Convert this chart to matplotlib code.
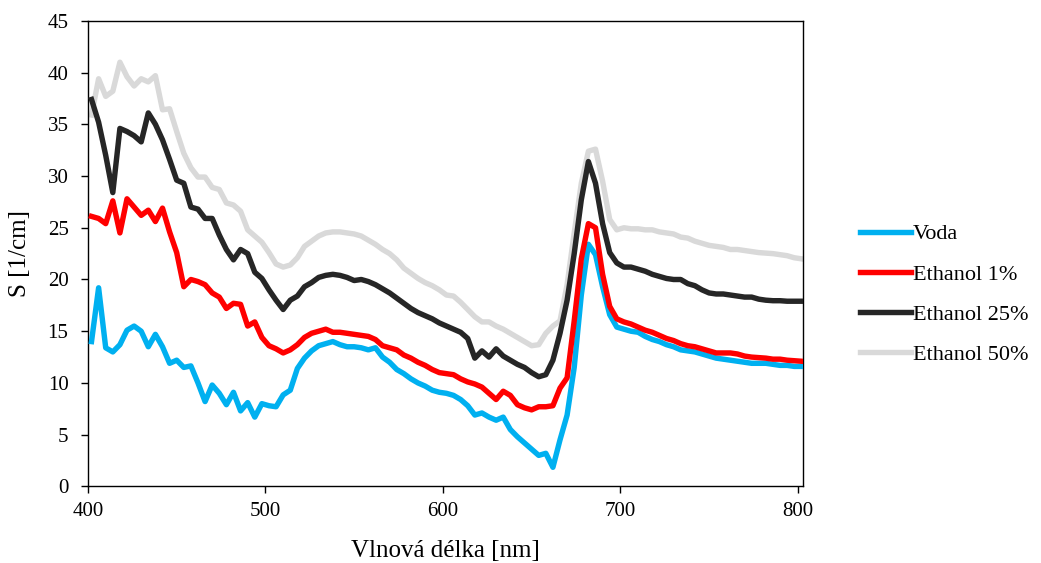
import matplotlib
matplotlib.use('Agg')
import matplotlib.pyplot as plt
import numpy as np

plt.rcParams['font.family'] = ['Liberation Serif', 'DejaVu Serif']

# wavelength grid of the measurement (nm)
wavelength = np.arange(402, 803, 4)

voda = [14.0, 19.2, 13.4, 13.0, 13.7, 15.1, 15.5, 15.0, 13.5, 14.7,
        13.5, 11.9, 12.2, 11.5, 11.65, 10.0, 8.2, 9.8, 9.0, 7.9,
        9.1, 7.3, 8.1, 6.7, 8.0, 7.8, 7.7, 8.85, 9.3, 11.4,
        12.4, 13.1, 13.6, 13.8, 14.0, 13.7, 13.5, 13.5, 13.4, 13.2,
        13.4, 12.5, 12.0, 11.3, 10.9, 10.4, 10.0, 9.7, 9.3, 9.1,
        9.0, 8.8, 8.4, 7.8, 6.9, 7.1, 6.7, 6.4, 6.7, 5.5,
        4.8, 4.2, 3.6, 3.0, 3.2, 1.85, 4.5, 6.9, 11.5, 18.5,
        23.4, 22.4, 19.3, 16.6, 15.4, 15.2, 15.0, 14.9, 14.5, 14.2,
        14.0, 13.7, 13.5, 13.2, 13.1, 13.0, 12.8, 12.6, 12.4, 12.3,
        12.2, 12.1, 12.0, 11.9, 11.9, 11.9, 11.8, 11.7, 11.7, 11.6,
        11.6]

ethanol_1 = [26.1, 25.9, 25.4, 27.6, 24.5, 27.8, 27.0, 26.2, 26.7, 25.6,
             26.9, 24.6, 22.6, 19.3, 20.0, 19.8, 19.5, 18.7, 18.3, 17.2,
             17.7, 17.6, 15.5, 15.9, 14.4, 13.6, 13.3, 12.9, 13.2, 13.7,
             14.4, 14.8, 15.0, 15.2, 14.9, 14.9, 14.8, 14.7, 14.6, 14.5,
             14.2, 13.6, 13.4, 13.2, 12.7, 12.4, 12.0, 11.7, 11.3, 11.0,
             10.9, 10.8, 10.4, 10.1, 9.9, 9.6, 9.0, 8.4, 9.2, 8.8,
             7.9, 7.6, 7.4, 7.7, 7.7, 7.8, 9.5, 10.5, 16.0, 22.0,
             25.4, 25.0, 20.5, 17.4, 16.2, 15.9, 15.7, 15.4, 15.1, 14.9,
             14.6, 14.3, 14.1, 13.8, 13.6, 13.5, 13.3, 13.1, 12.9, 12.9,
             12.9, 12.8, 12.6, 12.5, 12.45, 12.4, 12.3, 12.3, 12.2, 12.15,
             12.1]

ethanol_25 = [37.4, 35.2, 32.0, 28.4, 34.6, 34.3, 33.9, 33.3, 36.1, 35.0,
              33.5, 31.6, 29.6, 29.3, 27.0, 26.8, 25.9, 25.9, 24.3, 22.9,
              21.9, 22.9, 22.5, 20.7, 20.1, 19.0, 18.0, 17.1, 18.0, 18.4,
              19.3, 19.7, 20.2, 20.4, 20.5, 20.4, 20.2, 19.9, 20.0, 19.8,
              19.5, 19.1, 18.7, 18.2, 17.7, 17.2, 16.8, 16.5, 16.2, 15.8,
              15.5, 15.2, 14.9, 14.3, 12.4, 13.1, 12.5, 13.3, 12.6, 12.2,
              11.8, 11.5, 11.0, 10.6, 10.8, 12.2, 14.8, 18.0, 22.5, 27.7,
              31.4, 29.3, 25.4, 22.6, 21.6, 21.2, 21.2, 21.0, 20.8, 20.5,
              20.3, 20.1, 20.0, 20.0, 19.6, 19.4, 19.0, 18.7, 18.6, 18.6,
              18.5, 18.4, 18.3, 18.3, 18.1, 18.0, 17.95, 17.95, 17.9, 17.9,
              17.9]

ethanol_50 = [35.9, 39.4, 37.7, 38.2, 41.0, 39.6, 38.7, 39.4, 39.1, 39.7,
              36.4, 36.5, 34.3, 32.2, 30.8, 29.9, 29.9, 28.9, 28.7, 27.4,
              27.2, 26.6, 24.8, 24.2, 23.6, 22.6, 21.5, 21.2, 21.4, 22.1,
              23.2, 23.7, 24.2, 24.5, 24.6, 24.6, 24.5, 24.4, 24.2, 23.8,
              23.4, 22.9, 22.5, 21.9, 21.1, 20.6, 20.1, 19.7, 19.4, 19.0,
              18.5, 18.4, 17.8, 17.1, 16.4, 15.9, 15.9, 15.5, 15.2, 14.8,
              14.4, 14.0, 13.6, 13.7, 14.8, 15.5, 16.0, 19.5, 24.5, 29.3,
              32.4, 32.6, 29.5, 25.8, 24.8, 25.0, 24.9, 24.9, 24.8, 24.8,
              24.6, 24.5, 24.4, 24.1, 24.0, 23.7, 23.5, 23.3, 23.2, 23.1,
              22.9, 22.9, 22.8, 22.7, 22.6, 22.55, 22.5, 22.4, 22.3, 22.1,
              22.0]

labels = ['Voda', 'Ethanol 1%', 'Ethanol 25%', 'Ethanol 50%']
colors = ['#00B0F0', '#FF0000', '#262626', '#D9D9D9']
zorders = [4, 5, 3, 2]

fig = plt.figure(figsize=(10.41, 5.63), dpi=100)
ax = fig.add_axes([0.0845, 0.136, 0.687, 0.827])

lines = []
for y, lab, c, z in zip([voda, ethanol_1, ethanol_25, ethanol_50], labels, colors, zorders):
    ln, = ax.plot(wavelength, y, color=c, lw=3.9, label=lab, zorder=z,
                  solid_joinstyle='round')
    lines.append(ln)

ax.set_xlim(400, 803)
ax.set_ylim(0, 45)
ax.set_xticks([400, 500, 600, 700, 800])
ax.set_yticks(range(0, 46, 5))
ax.tick_params(direction='out', length=5, width=1, labelsize=15, color='black')
ax.tick_params(axis='y', pad=9)
ax.tick_params(axis='x', pad=6)
for s in ax.spines.values():
    s.set_color('black')
    s.set_linewidth(1)

ax.set_xlabel('Vlnová délka [nm]', fontsize=18, labelpad=14)
ax.set_ylabel('S [1/cm]', fontsize=18, labelpad=12)

fig.legend(lines, labels, loc='upper left', bbox_to_anchor=(0.815, 0.622),
           frameon=False, fontsize=16, handlelength=2.3, handletextpad=0.1,
           labelspacing=0.88, borderpad=0)

fig.savefig('out.png', dpi=100)
